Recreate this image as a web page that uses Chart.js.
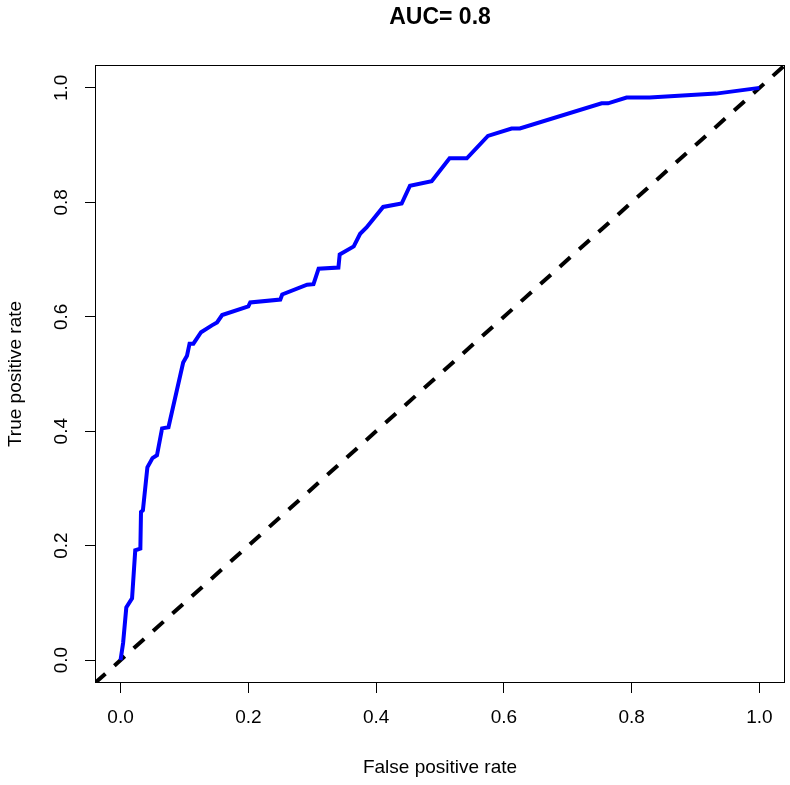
<!DOCTYPE html>
<html lang="en">
<head>
    <meta charset="UTF-8">
    <title>ROC curve</title>
    <script src="https://cdn.jsdelivr.net/npm/chart.js"></script>
    <style>
        body { margin: 0; background: #fff; }
    </style>
</head>
<body>

    <canvas id="rocChart" width="790" height="785"></canvas>

    <script>
        // ROC curve points
        const fpr = [0, 0.004, 0.009, 0.018, 0.023, 0.031, 0.032, 0.035, 0.042, 0.050, 0.057, 0.065, 0.075,
            0.098, 0.104, 0.108, 0.114, 0.126, 0.143, 0.151, 0.159, 0.200, 0.203, 0.250, 0.253, 0.292,
            0.302, 0.310, 0.341, 0.343, 0.365, 0.375, 0.385, 0.411, 0.440, 0.453, 0.487, 0.515, 0.542,
            0.575, 0.612, 0.625, 0.753, 0.763, 0.792, 0.828, 0.932, 1];
        const tpr = [0, 0.030, 0.092, 0.108, 0.192, 0.195, 0.259, 0.262, 0.337, 0.353, 0.358, 0.405, 0.407,
            0.520, 0.532, 0.553, 0.553, 0.573, 0.585, 0.590, 0.603, 0.618, 0.625, 0.630, 0.639, 0.656,
            0.657, 0.684, 0.686, 0.709, 0.723, 0.745, 0.756, 0.792, 0.798, 0.829, 0.837, 0.877, 0.877,
            0.916, 0.929, 0.929, 0.973, 0.973, 0.983, 0.983, 0.990, 1];

        // diagonal reference line (abline 0,1) spans the whole plot
        const diagX = [-0.04, 1.04];
        const diagY = [-0.04, 1.04];

        const xTicks = [0, 0.2, 0.4, 0.6, 0.8, 1.0];
        const yTicks = [0, 0.2, 0.4, 0.6, 0.8, 1.0];
        const titleText = 'AUC= 0.8';

        const fontFamily = '"Liberation Sans", Arial, Helvetica, sans-serif';

        // box, rotated y tick labels and the main title, drawn like R does
        const rStyle = {
            id: 'rStyle',
            afterDraw(chart) {
                const ctx = chart.ctx;
                const a = chart.chartArea;
                const ys = chart.scales.y;
                ctx.save();
                ctx.strokeStyle = '#000';
                ctx.lineWidth = 1;
                ctx.strokeRect(a.left + 0.5, a.top + 0.5, a.right - a.left - 1, a.bottom - a.top - 1);

                ctx.fillStyle = '#000';
                ctx.font = '19px ' + fontFamily;
                ctx.textAlign = 'center';
                ctx.textBaseline = 'middle';
                yTicks.forEach(v => {
                    const y = ys.getPixelForValue(v);
                    ctx.save();
                    ctx.translate(62, y);
                    ctx.rotate(-Math.PI / 2);
                    ctx.fillText(v.toFixed(1), 0, 0);
                    ctx.restore();
                });

                ctx.font = 'bold 23px ' + fontFamily;
                ctx.fillText(titleText, (a.left + a.right) / 2, 18);
                ctx.restore();
            }
        };

        const ctx = document.getElementById('rocChart').getContext('2d');
        const rocChart = new Chart(ctx, {
            type: 'scatter',
            data: {
                datasets: [{
                    data: fpr.map((x, i) => ({ x: x, y: tpr[i] })),
                    showLine: true,
                    borderColor: '#0000ff',
                    borderWidth: 4,
                    pointRadius: 0,
                    fill: false,
                    clip: 0
                }, {
                    data: diagX.map((x, i) => ({ x: x, y: diagY[i] })),
                    showLine: true,
                    borderColor: '#000',
                    borderWidth: 4,
                    borderDash: [14, 12],
                    pointRadius: 0,
                    fill: false,
                    clip: 0
                }]
            },
            options: {
                responsive: false,
                animation: false,
                devicePixelRatio: 1,
                layout: { padding: { top: 65, right: 5, left: 0, bottom: 0 } },
                plugins: {
                    legend: { display: false },
                    tooltip: { enabled: false }
                },
                scales: {
                    x: {
                        type: 'linear',
                        min: -0.04,
                        max: 1.04,
                        afterBuildTicks: s => { s.ticks = xTicks.map(v => ({ value: v })); },
                        afterFit: s => { s.height = 102; },
                        grid: { drawOnChartArea: false, drawTicks: true, tickLength: 10, color: '#000' },
                        border: { display: false },
                        ticks: {
                            color: '#000',
                            padding: 13,
                            maxRotation: 0,
                            font: { family: fontFamily, size: 19 },
                            callback: v => v.toFixed(1)
                        },
                        title: {
                            display: true,
                            text: 'False positive rate',
                            color: '#000',
                            font: { family: fontFamily, size: 19 },
                            padding: { top: 0, bottom: 6 }
                        }
                    },
                    y: {
                        type: 'linear',
                        min: -0.04,
                        max: 1.04,
                        afterBuildTicks: s => { s.ticks = yTicks.map(v => ({ value: v })); },
                        afterFit: s => { s.width = 95; },
                        grid: { drawOnChartArea: false, drawTicks: true, tickLength: 10, color: '#000' },
                        border: { display: false },
                        ticks: { display: false },
                        title: {
                            display: true,
                            text: 'True positive rate',
                            color: '#000',
                            font: { family: fontFamily, size: 19 },
                            padding: { top: 4, bottom: 0 }
                        }
                    }
                }
            },
            plugins: [rStyle]
        });
    </script>

</body>
</html>
